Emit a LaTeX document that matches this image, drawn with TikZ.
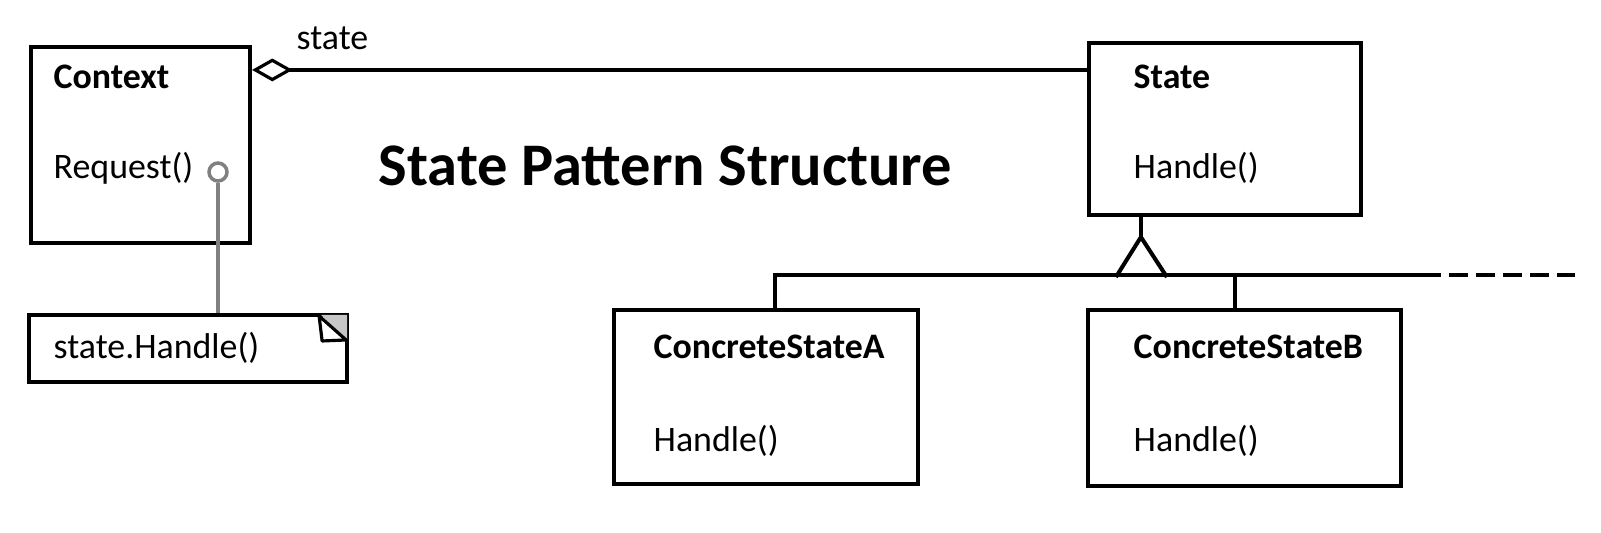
\documentclass[tikz,border=0pt]{standalone}
\usepackage{fontspec}
\setmainfont{Carlito}
\usetikzlibrary{arrows.meta,calc}

\tikzset{
  umlbox/.style={draw,line width=1.15pt,inner sep=0pt},
  txt/.style={anchor=base west,inner sep=0pt,font=\fontsize{10.2}{12}\selectfont},
  link/.style={line width=1.15pt},
  notelink/.style={draw=gray,line width=1pt}
}

\begin{document}
\begin{tikzpicture}[x=0.01cm,y=-0.01cm]
  \useasboundingbox (0,0) rectangle (1601,532);

  %boxes
  \node[umlbox,minimum width=2.19cm,minimum height=1.96cm] (ctx) at (140.5,145) {};
  \node[umlbox,minimum width=3.18cm,minimum height=0.67cm] (note) at (188,348.5) {};
  \node[umlbox,minimum width=2.72cm,minimum height=1.72cm] (st) at (1225,129) {};
  \node[umlbox,minimum width=3.04cm,minimum height=1.74cm] (csa) at (766,397) {};
  \node[umlbox,minimum width=3.13cm,minimum height=1.76cm] (csb) at (1244.5,398) {};

  %texts
  \node[txt] (ctxname) at (53,88) {\bfseries Context};
  \node[txt] (ctxop) at (53,178) {Request()};
  \node[txt] (notetext) at (53,358) {state.Handle()};
  \node[txt] (role) at (296,49) {state};
  \node[txt] (stname) at (1133,88) {\bfseries State};
  \node[txt] (stop) at (1133,178) {Handle()};
  \node[txt] (csaname) at (653,358) {\bfseries ConcreteStateA};
  \node[txt] (csaop) at (653,451) {Handle()};
  \node[txt] (csbname) at (1133,358) {\bfseries ConcreteStateB};
  \node[txt] (csbop) at (1133,451) {Handle()};
  \node[txt,font=\fontsize{17.2}{20}\selectfont\bfseries] (title) at (378,185) {State Pattern Structure};

  %aggregation
  \coordinate (aggstart) at ($(ctx.north east)+(0,25)$);
  \draw[link,{Diamond[open,length=11.5pt,width=6.5pt,line width=0.9pt]}-] (aggstart) -- (aggstart -| st.west);

  %note link
  \node[circle,draw=gray,line width=1pt,fill=white,minimum size=0.18cm,inner sep=0pt] (req) at (218,172) {};
  \draw[notelink] (req.south) -- (req.south |- note.north);

  %note fold
  \fill[gray!45] ($(note.north east)+(-28,2)$) -- ($(note.north east)+(-2,2)$) -- ($(note.north east)+(-2,27)$) -- cycle;
  \draw[line width=0.9pt,fill=white,line join=round] ($(note.north east)+(-30,3)$) -- ($(note.north east)+(-27,28)$) -- ($(note.north east)+(-3,27)$) -- cycle;

  %inheritance
  \coordinate (apex) at ($(st.south west)+(54,20)$);
  \coordinate (busA) at (773,275);
  \coordinate (busB) at (1441,275);
  \coordinate (busEnd) at (1575,275);
  \coordinate (stemA) at ($(csa.north)+(9,0)$);
  \coordinate (stemB) at ($(csb.north)+(-10,0)$);
  \draw[link] (apex |- st.south) -- (apex);
  \draw[link,line join=miter] ($(apex)+(-25,40)$) -- (apex) -- ($(apex)+(26,40)$);
  \draw[link] (busA) -- (busB);
  \draw[link,dash pattern=on 5.4pt off 2.3pt] ($(busB)+(8,0)$) -- (busEnd);
  \draw[link] (stemA) -- (stemA |- busA);
  \draw[link] (stemB) -- (stemB |- busA);
\end{tikzpicture}
\end{document}
